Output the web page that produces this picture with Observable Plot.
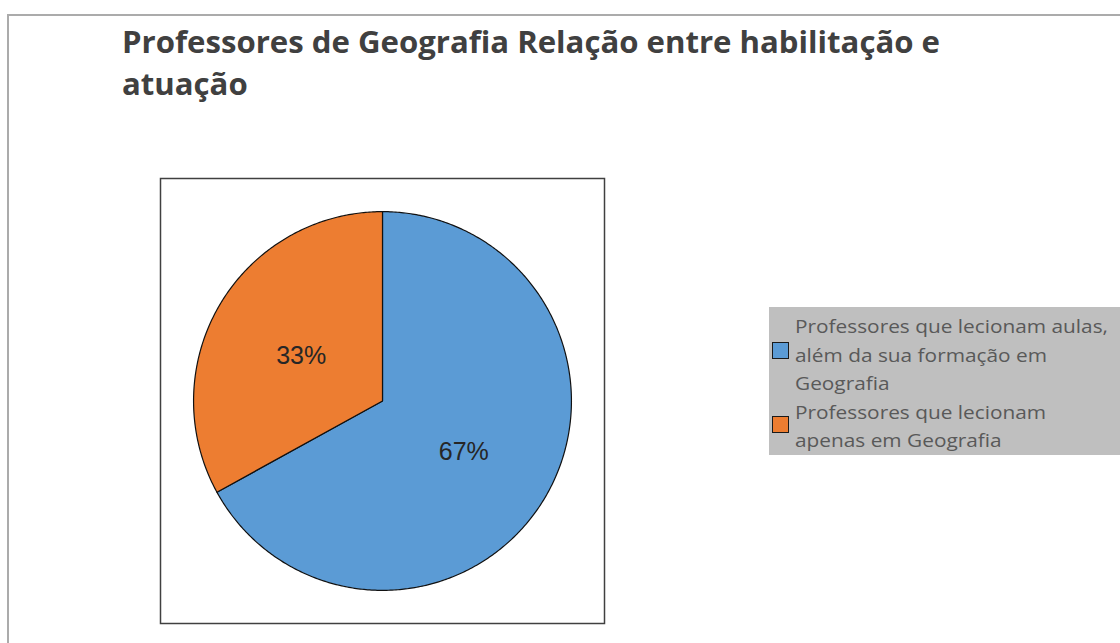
<!DOCTYPE html>
<html>
<head>
<meta charset="utf-8">
<script src="https://cdn.jsdelivr.net/npm/d3@7"></script>
<script src="https://cdn.jsdelivr.net/npm/@observablehq/plot@0.6"></script>
<style>
  html, body { margin: 0; padding: 0; background: #fff; }
  #wrap { position: relative; width: 1120px; height: 643px; overflow: hidden; }
  #outer { position: absolute; left: 7px; top: 14px; right: -10px; bottom: -10px;
           border-top: 2px solid #ababab; border-left: 2px solid #ababab; }
  .title { position: absolute; left: 122px; font-family: "Open Sans", sans-serif; font-weight: 700;
           font-size: 30px; line-height: 30px; color: #404040; white-space: nowrap; transform-origin: 0 0; }
  #legend { position: absolute; left: 769px; top: 307px; width: 360px; height: 148px; background: #bfbfbf; }
  .sw { position: absolute; left: 3px; width: 15px; height: 15px; border: 1.5px solid #1a1a1a; }
  .lab { position: absolute; left: 26px; font-family: "Open Sans", sans-serif; font-size: 19px; line-height: 28.5px;
         color: #595959; white-space: pre; transform-origin: 0 0; }
  #plot { position: absolute; left: 0; top: 0; }
</style>
</head>
<body>
<div id="wrap">
  <div id="plot"></div>
  <div id="outer"></div>
  <div id="titles"></div>
  <div id="legend"></div>
</div>
<script>
// ---- data ----
const titleLines = ["Professores de Geografia Relação entre habilitação e", "atuação"];
const categories = [
  "Professores que lecionam aulas,\nalém da sua formação em\nGeografia",
  "Professores que lecionam\napenas em Geografia"
];
const values = [67, 33];
const valueLabels = ["67%", "33%"];
const colors = ["#5b9bd5", "#ed7d31"];

// ---- slice outlines from values (d3.pie, clockwise from 12 o'clock) ----
const arcs = d3.pie().sort(null)(values);
const pts = [];
arcs.forEach((a, i) => {
  const cat = categories[i];
  pts.push({cat, x: 0, y: 0});
  const n = Math.max(2, Math.ceil((a.endAngle - a.startAngle) / 0.01));
  for (let k = 0; k <= n; k++) {
    const t = a.startAngle + (a.endAngle - a.startAngle) * k / n;
    pts.push({cat, x: Math.sin(t), y: Math.cos(t)});
  }
  pts.push({cat, x: 0, y: 0});
});
const labelPts = arcs.map((a, i) => {
  const m = (a.startAngle + a.endAngle) / 2;
  return {label: valueLabels[i], x: 0.5 * Math.sin(m), y: 0.5 * Math.cos(m)};
});

const chart = Plot.plot({
  width: 1120,
  height: 643,
  marginLeft: 160,
  marginRight: 516,
  marginTop: 178,
  marginBottom: 20,
  x: {domain: [-1.175, 1.175], axis: null},
  y: {domain: [-1.175, 1.175], axis: null},
  color: {domain: categories, range: colors},
  style: {background: "transparent", overflow: "visible"},
  marks: [
    Plot.frame({stroke: "#404040", strokeWidth: 1.5}),
    Plot.line(pts, {x: "x", y: "y", z: "cat", fill: "cat", stroke: "#111", strokeWidth: 1.2, curve: "linear"}),
    Plot.text(labelPts, {x: "x", y: "y", text: "label", fontSize: 25, fill: "#262626", dy: 3,
                         fontFamily: "Liberation Sans, Arial, sans-serif"})
  ]
});
document.getElementById("plot").appendChild(chart);

// ---- title ----
const titles = document.getElementById("titles");
const baselines = [54, 96];
titleLines.forEach((t, i) => {
  const d = document.createElement("div");
  d.className = "title";
  d.textContent = t;
  d.style.top = (baselines[i] - 0.888 * 30) + "px";
  titles.appendChild(d);
});
const w = titles.firstChild.getBoundingClientRect().width;
const sx = 818 / w;
titles.childNodes.forEach(n => n.style.transform = `scaleX(${sx})`);

// ---- legend ----
const legend = document.getElementById("legend");
const labTops = [5, 90.5];
const swTops = [35, 109];
let lsx = 1;
categories.forEach((c, i) => {
  const sw = document.createElement("div");
  sw.className = "sw";
  sw.style.top = swTops[i] + "px";
  sw.style.background = colors[i];
  const lab = document.createElement("div");
  lab.className = "lab";
  lab.style.top = labTops[i] + "px";
  lab.textContent = c;
  legend.appendChild(sw);
  legend.appendChild(lab);
  if (i === 0) lsx = 313 / lab.getBoundingClientRect().width;
});
legend.querySelectorAll(".lab").forEach(n => n.style.transform = `scaleX(${lsx})`);
</script>
</body>
</html>
